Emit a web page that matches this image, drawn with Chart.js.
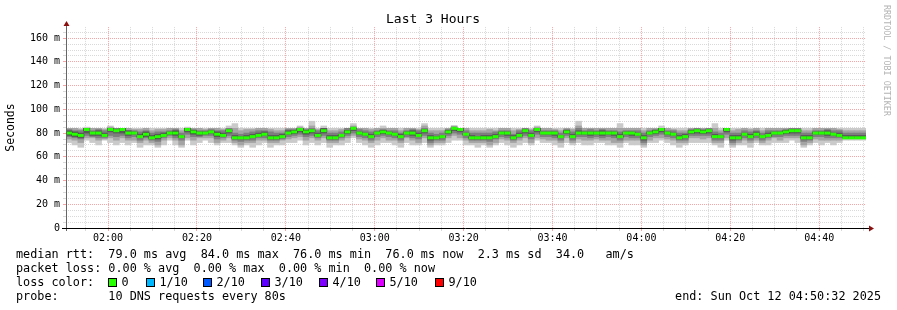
<!DOCTYPE html>
<html>
<head>
<meta charset="utf-8">
<title>Last 3 Hours</title>
<script src="https://cdn.jsdelivr.net/npm/chart.js@4.4.1/dist/chart.umd.min.js"></script>
<style>
    html, body { margin: 0; padding: 0; background: #fff; }
    #wrap { position: relative; width: 897px; height: 310px; overflow: hidden; }
    #wrap canvas { position: absolute; left: 0; top: 0; }
    .leg {
        position: absolute;
        font-family: 'DejaVu Sans Mono', monospace;
        font-size: 11.8px;
        line-height: 14.2px;
        color: #000;
        white-space: pre;
    }
    .box {
        position: absolute;
        width: 7px;
        height: 7px;
        border: 1px solid #000;
    }
    #mark {
        position: absolute;
        left: 882px;
        top: 5px;
        writing-mode: vertical-rl;
        font-family: 'DejaVu Sans Mono', monospace;
        font-size: 8.4px;
        line-height: 10px;
        color: #b4b4b4;
        white-space: pre;
    }
</style>
</head>
<body>
<div id="wrap">
    <canvas id="smoke" width="897" height="310"></canvas>
    <div id="mark">RRDTOOL / TOBI OETIKER</div>
    <div id="legend"></div>
</div>
<script>
// time axis: 3 hours ending Sun Oct 12 04:50:32, 80 s per bin (seconds since midnight)
const xStart = 6632;
const xEnd = 17432;
const binSeconds = 80;

// median rtt per bin (ms)
const median = [
    80, 79, 78, 83, 80, 80, 78, 83, 82, 83, 80, 80, 77, 79, 76, 77, 78, 80, 80, 77,
    83, 81, 80, 80, 81, 79, 78, 82, 76, 76, 76, 77, 78, 79, 76, 76, 77, 80, 81, 83,
    81, 82, 78, 82, 76, 76, 78, 81, 84, 80, 79, 77, 80, 81, 80, 79, 77, 80, 80, 78,
    82, 76, 76, 77, 81, 84, 83, 79, 76, 76, 76, 76, 77, 80, 80, 76, 78, 82, 78, 83,
    80, 80, 80, 77, 81, 77, 80, 80, 80, 80, 80, 80, 80, 77, 80, 80, 79, 76, 80, 81,
    83, 80, 79, 76, 77, 81, 82, 81, 82, 77, 77, 83, 76, 76, 79, 77, 79, 77, 78, 80,
    80, 81, 82, 82, 76, 76, 80, 80, 80, 79, 78, 76, 76, 76, 76
];

// the 10 sorted pings of each bin (ms)
const pings = [
    [72,75,77,78,79,81,82,83,84,84], [70,74,76,77,78,80,81,82,84,84], [68,72,75,76,77,79,80,82,83,84],
    [74,76,78,80,82,84,84,84,84,85], [72,76,77,78,80,80,81,82,84,84], [70,74,76,78,80,80,82,83,84,84],
    [74,75,76,77,78,78,80,82,83,84], [72,76,78,81,82,84,84,84,85,86], [70,74,77,80,82,82,83,84,84,84],
    [72,76,78,80,82,84,84,84,84,84], [70,74,76,78,80,80,82,82,84,84], [72,74,77,79,80,80,81,82,83,84],
    [68,72,74,76,77,77,79,81,83,84], [70,74,76,77,78,80,81,82,84,84], [70,72,74,75,76,76,78,80,82,84],
    [68,70,73,75,76,78,79,81,83,84], [70,74,76,77,78,78,80,81,83,84], [74,76,78,79,80,80,81,82,84,84],
    [70,74,76,78,79,81,82,83,84,84], [68,70,74,76,77,77,78,80,82,84], [74,76,79,81,82,84,84,84,84,85],
    [70,74,77,79,80,82,82,83,84,84], [72,76,77,78,80,80,81,82,84,84], [74,76,78,79,80,80,81,82,83,84],
    [72,76,78,80,81,81,82,83,84,84], [70,72,75,77,78,80,81,82,84,84], [72,74,76,77,78,78,80,82,83,84],
    [72,76,78,80,82,82,83,84,84,86], [70,72,74,75,76,76,78,80,84,88], [68,70,73,75,76,76,77,79,82,84],
    [70,72,74,75,76,76,78,80,83,84], [68,72,74,76,77,77,79,81,83,84], [70,74,76,77,78,78,80,82,84,84],
    [72,74,76,78,79,79,81,82,84,84], [68,72,74,75,76,76,78,81,83,84], [70,72,74,75,76,76,78,80,82,84],
    [70,74,75,76,77,77,79,80,82,84], [72,75,77,79,80,80,82,83,84,84], [72,76,78,80,80,82,82,83,84,84],
    [74,77,79,81,82,84,84,84,85,86], [70,74,77,79,80,82,82,83,84,84], [72,76,78,80,82,82,83,84,86,90],
    [70,74,76,77,78,78,80,82,83,84], [72,76,78,80,81,83,84,84,84,86], [68,72,74,75,76,76,78,80,82,84],
    [70,72,74,75,76,76,78,80,82,84], [70,74,76,77,78,78,79,81,83,84], [72,76,78,80,80,82,82,84,84,84],
    [76,78,80,82,84,84,84,85,86,88], [72,75,77,79,80,80,81,83,84,84], [70,74,76,78,79,79,80,82,84,84],
    [68,72,74,76,77,77,79,81,83,84], [70,74,77,79,80,80,81,82,84,84], [72,76,78,80,80,82,82,83,84,86],
    [72,74,77,79,80,80,81,82,84,84], [70,74,76,78,79,79,80,82,84,84], [68,72,74,76,77,77,79,80,82,84],
    [72,76,77,79,80,80,81,82,84,84], [70,74,76,78,80,80,82,83,84,84], [70,72,75,77,78,78,80,82,83,84],
    [72,76,78,80,82,82,83,84,86,88], [68,70,72,74,76,76,78,80,82,84], [70,72,74,75,76,76,77,79,82,84],
    [70,72,74,76,77,77,78,80,82,84], [72,76,78,80,80,82,82,83,84,84], [74,78,80,82,84,84,84,85,86,86],
    [74,76,79,81,82,84,84,84,84,84], [70,74,76,78,79,79,80,82,84,84], [70,72,74,75,76,76,78,80,82,84],
    [68,72,74,75,76,76,77,80,82,84], [70,72,74,75,76,76,78,80,82,84], [68,70,73,75,76,76,78,80,83,84],
    [70,72,75,76,77,77,79,81,82,84], [72,75,77,79,80,80,81,82,84,84], [70,74,76,78,80,80,81,82,84,84],
    [68,72,74,75,76,76,78,79,82,84], [70,74,76,77,78,78,80,82,83,84], [72,76,78,80,82,82,83,84,84,84],
    [70,72,75,77,78,78,80,82,83,84], [74,76,79,81,82,84,84,84,85,86], [72,75,77,79,80,80,81,82,84,84],
    [72,74,77,79,80,80,81,82,84,84], [70,74,76,78,80,80,81,82,83,84], [68,72,74,76,77,77,78,80,82,84],
    [72,76,78,80,80,82,82,83,84,84], [70,72,74,76,77,77,79,81,83,84], [72,75,77,79,80,80,82,84,86,90],
    [70,74,77,79,80,80,81,82,84,84], [70,74,76,78,80,80,81,83,84,84], [72,75,77,79,80,80,81,82,84,84],
    [72,74,76,78,80,80,82,83,84,84], [70,74,77,79,80,80,81,82,84,84], [70,72,76,78,80,80,81,82,84,84],
    [68,72,74,76,77,77,79,81,84,88], [72,74,77,79,80,80,81,82,84,84], [70,74,76,78,80,80,81,82,84,84],
    [70,74,76,78,79,79,80,82,84,84], [68,70,72,74,76,76,78,80,82,84], [72,74,77,79,80,80,81,82,84,84],
    [72,76,78,80,80,82,82,83,84,84], [74,76,79,81,82,84,84,84,84,86], [72,75,77,79,80,80,81,82,84,84],
    [70,74,76,78,79,79,80,82,83,84], [68,72,74,75,76,76,78,80,82,84], [70,72,74,76,77,77,79,80,82,84],
    [72,76,78,80,80,82,82,83,84,84], [72,76,78,80,82,82,83,84,84,84], [72,75,78,80,80,82,82,83,84,84],
    [72,76,78,80,82,82,83,84,84,84], [70,72,74,76,77,77,79,81,84,88], [68,72,74,76,77,77,78,80,82,84],
    [74,76,79,81,82,84,84,84,84,84], [68,70,72,74,76,76,78,80,82,84], [70,72,74,75,76,76,78,80,83,84],
    [70,74,76,78,79,79,80,82,84,84], [68,72,74,76,77,77,79,81,83,84], [72,74,76,78,79,79,81,82,84,84],
    [70,72,74,76,77,77,78,80,82,84], [70,74,76,77,78,78,80,82,84,84], [72,76,77,79,80,80,81,82,84,84],
    [72,74,77,79,80,80,81,82,84,84], [72,76,78,80,80,82,82,83,84,84], [74,76,78,80,82,82,83,84,84,84],
    [72,76,78,80,82,82,83,84,84,84], [68,70,73,75,76,76,78,80,82,84], [70,72,74,75,76,76,78,80,82,84],
    [72,75,77,79,80,80,81,82,84,84], [70,74,77,79,80,80,81,82,84,84], [72,74,76,78,80,80,82,83,84,84],
    [70,74,76,78,79,79,80,82,84,84], [72,74,76,77,78,78,80,82,83,84], [74,76,76,76,76,76,78,80,82,84],
    [74,76,76,76,76,76,78,80,82,84], [74,76,76,76,76,76,78,80,82,84], [74,76,76,76,76,76,78,80,82,84]
];

// smoke shades, outermost ping pair first
const smokeGreys = ['#cacaca', '#a4a4a4', '#7e7e7e', '#585858', '#323232'];

// loss colour legend
const lossLabels = ['0', '1/10', '2/10', '3/10', '4/10', '5/10', '9/10'];
const lossColors = ['#26ff00', '#00b8ff', '#0059ff', '#5e00ff', '#7e00ff', '#dd00ff', '#ff0000'];
const lossBoxX = [108, 146, 203, 261, 319, 376, 435];

// legend statistics
const rttStats = ['79.0', '84.0', '76.0', '76.0'];
const lossStats = ['0.00', '0.00', '0.00', '0.00'];
const rttSd = '2.3';
const amPerSec = '34.0';

const gridMinor = '#d9d9d9';
const gridMajor = '#f5a5a5';
const mono = "'DejaVu Sans Mono', monospace";

function binCentre(i) {
    return xStart + (i + 0.5) * binSeconds;
}

function clock(sec) {
    const h = Math.floor(sec / 3600);
    const m = Math.floor((sec % 3600) / 60);
    return String(h).padStart(2, '0') + ':' + String(m).padStart(2, '0');
}

// one floating bar dataset per ping pair (outer pair = lightest)
const smokeSets = [];
for (let k = 4; k >= 0; k--) {
    smokeSets.push({
        type: 'bar',
        label: 'smoke ' + k,
        data: pings.map((p, i) => ({ x: binCentre(i), y: [p[k], p[9 - k]] })),
        backgroundColor: smokeGreys[k],
        borderWidth: 0,
        grouped: false,
        barPercentage: 1,
        categoryPercentage: 1,
        order: 5 - k + 1
    });
}

// axis lines and arrow heads like rrdtool draws them
const rrdAxes = {
    id: 'rrdAxes',
    afterDatasetsDraw(chart) {
        const { ctx, chartArea: a } = chart;
        ctx.save();
        ctx.lineWidth = 1;
        ctx.strokeStyle = '#666';
        ctx.beginPath();
        ctx.moveTo(a.left + 0.5, a.top - 2);
        ctx.lineTo(a.left + 0.5, a.bottom + 3);
        ctx.stroke();
        ctx.strokeStyle = '#000';
        ctx.beginPath();
        ctx.moveTo(a.left - 4, a.bottom + 0.5);
        ctx.lineTo(a.right + 3, a.bottom + 0.5);
        ctx.stroke();
        ctx.fillStyle = '#8b1010';
        ctx.beginPath();
        ctx.moveTo(a.left + 0.5, a.top - 6);
        ctx.lineTo(a.left - 2.5, a.top - 1);
        ctx.lineTo(a.left + 3.5, a.top - 1);
        ctx.closePath();
        ctx.fill();
        ctx.beginPath();
        ctx.moveTo(a.right + 8, a.bottom + 0.5);
        ctx.lineTo(a.right + 3, a.bottom - 2.5);
        ctx.lineTo(a.right + 3, a.bottom + 3.5);
        ctx.closePath();
        ctx.fill();
        ctx.restore();
    }
};

Chart.defaults.font.family = mono;
Chart.defaults.color = '#000';

const gridColour = c => (c.tick && c.tick.value % (c.scale.axis === 'x' ? 1200 : 20) === 0) ? gridMajor : gridMinor;

new Chart(document.getElementById('smoke'), {
    type: 'bar',
    data: {
        datasets: [
            {
                type: 'line',
                label: 'median rtt',
                data: median.map((m, i) => ({ x: binCentre(i), y: m })),
                showLine: false,
                pointStyle: 'line',
                pointRadius: binSeconds * 800 / (xEnd - xStart) / 2,
                pointBorderWidth: 3,
                pointBorderColor: lossColors[0],
                pointBackgroundColor: lossColors[0],
                order: 0
            },
            ...smokeSets
        ]
    },
    options: {
        responsive: false,
        animation: false,
        events: [],
        layout: { padding: { top: 0, right: 31, bottom: 0, left: 0 } },
        plugins: {
            legend: { display: false },
            tooltip: { enabled: false },
            title: {
                display: true,
                text: 'Last 3 Hours',
                color: '#000',
                font: { family: mono, size: 13, weight: 'normal' },
                padding: { top: 11.5, bottom: 0 }
            }
        },
        scales: {
            x: {
                type: 'linear',
                min: xStart,
                max: xEnd,
                offset: false,
                afterFit: s => { s.height = 82; },
                afterBuildTicks: s => {
                    const ticks = [];
                    for (let t = Math.ceil(xStart / 300) * 300; t <= xEnd; t += 300) ticks.push({ value: t });
                    s.ticks = ticks;
                },
                grid: {
                    offset: false,
                    color: gridColour,
                    tickColor: gridColour,
                    tickLength: 3,
                    lineWidth: 1
                },
                border: { display: false, dash: [1, 1] },
                ticks: {
                    autoSkip: false,
                    maxRotation: 0,
                    padding: 1,
                    font: { size: 10 },
                    callback: v => (v % 1200 === 0 ? clock(v) : '')
                }
            },
            y: {
                min: 0,
                max: 169.3,
                afterFit: s => { s.width = 66; },
                grid: {
                    color: gridColour,
                    tickColor: gridColour,
                    tickLength: 3,
                    lineWidth: 1
                },
                border: { display: false, dash: [1, 1] },
                ticks: {
                    stepSize: 5,
                    includeBounds: false,
                    autoSkip: false,
                    padding: 3,
                    font: { size: 10 },
                    callback: v => (v % 20 === 0 ? (v === 0 ? '0' : v + ' m') : '')
                },
                title: {
                    display: true,
                    text: 'Seconds',
                    font: { size: 11.5 },
                    padding: { top: 4, bottom: 0 }
                }
            }
        }
    },
    plugins: [rrdAxes]
});

// text legend under the graph
const legend = document.getElementById('legend');
function addText(text, left, top, extra) {
    const d = document.createElement('div');
    d.className = 'leg';
    d.textContent = text;
    d.style.left = left + 'px';
    d.style.top = top + 'px';
    if (extra) Object.assign(d.style, extra);
    legend.appendChild(d);
}

const rowTop = [246.5, 260.6, 274.7, 288.8];
addText('median rtt:  ' + rttStats[0] + ' ms avg  ' + rttStats[1] + ' ms max  ' +
    rttStats[2] + ' ms min  ' + rttStats[3] + ' ms now  ' + rttSd + ' ms sd  ' +
    amPerSec + '   am/s', 16, rowTop[0]);
addText('packet loss: ' + lossStats[0] + ' % avg  ' + lossStats[1] + ' % max  ' +
    lossStats[2] + ' % min  ' + lossStats[3] + ' % now', 16, rowTop[1]);
addText('loss color:', 16, rowTop[2]);
lossLabels.forEach((lbl, i) => {
    const b = document.createElement('div');
    b.className = 'box';
    b.style.left = lossBoxX[i] + 'px';
    b.style.top = '278px';
    b.style.background = lossColors[i];
    legend.appendChild(b);
    addText(lbl, lossBoxX[i] + 13.5, rowTop[2]);
});
addText('probe:       10 DNS requests every 80s', 16, rowTop[3]);
addText('end: Sun Oct 12 04:50:32 2025', 0, rowTop[3], { left: 'auto', right: '16px' });
</script>
</body>
</html>
